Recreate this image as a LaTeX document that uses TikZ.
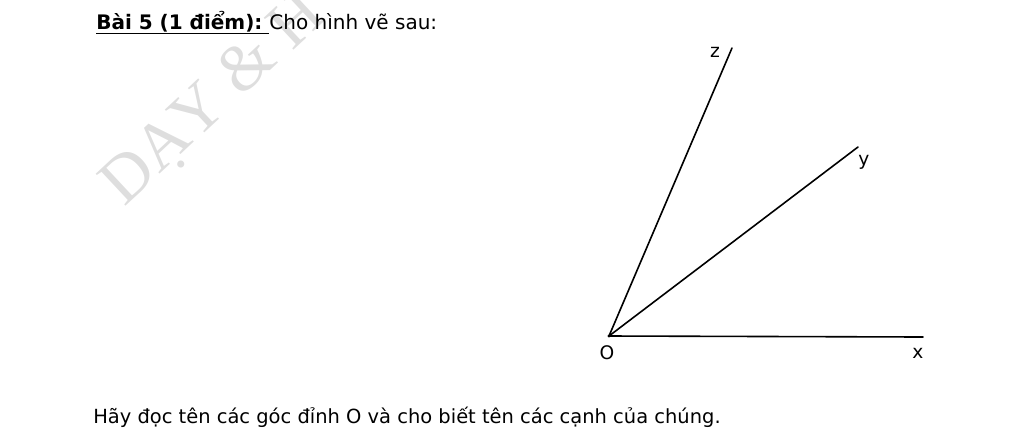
\documentclass[tikz,border=0pt]{standalone}
\usepackage{fontspec}
\setmainfont{DejaVu Sans}
\newfontfamily\wmfont{Liberation Serif}
\tikzset{
  ray/.style={line width=1.2pt, line cap=round},
  lbl/.style={font=\fontsize{14}{16}\selectfont, inner sep=0pt},
  txt/.style={font=\fontsize{14.6}{16}\selectfont, inner sep=0pt, anchor=base west},
}
\begin{document}
\begin{tikzpicture}[x=0.75pt,y=-0.75pt]
\useasboundingbox (0,0) rectangle (1024,437);
\begin{scope}
\clip (0,0) rectangle (1024,437);
\node[rotate=43, anchor=base west, text=black!13, inner sep=0pt,
  font=\wmfont\fontsize{50}{50}\selectfont] (wm) at (124,208) {DẠY \& H};
\end{scope}
\node[txt, font=\fontsize{15}{16}\selectfont] (title) at (96,29) {\textbf{\underline{Bài 5 (1 điểm):\ }}Cho hình vẽ sau:};
\coordinate (O) at (609,336);
\coordinate (Z) at (732,48);
\coordinate (Y) at (858,147);
\coordinate (X) at (923,337);
\draw[ray] (O) -- (Z);
\draw[ray] (O) -- (Y);
\draw[ray] (O) -- (X);
\fill (O) circle (1.7);
\node[lbl] (lz) at (715,52) {z};
\node[lbl] (ly) at (864,162) {y};
\node[lbl] (lo) at (607,353) {O};
\node[lbl] (lx) at (918,353) {x};
\node[txt] (q) at (93,423) {Hãy đọc tên các góc đỉnh O và cho biết tên các cạnh của chúng.};
\end{tikzpicture}
\end{document}
